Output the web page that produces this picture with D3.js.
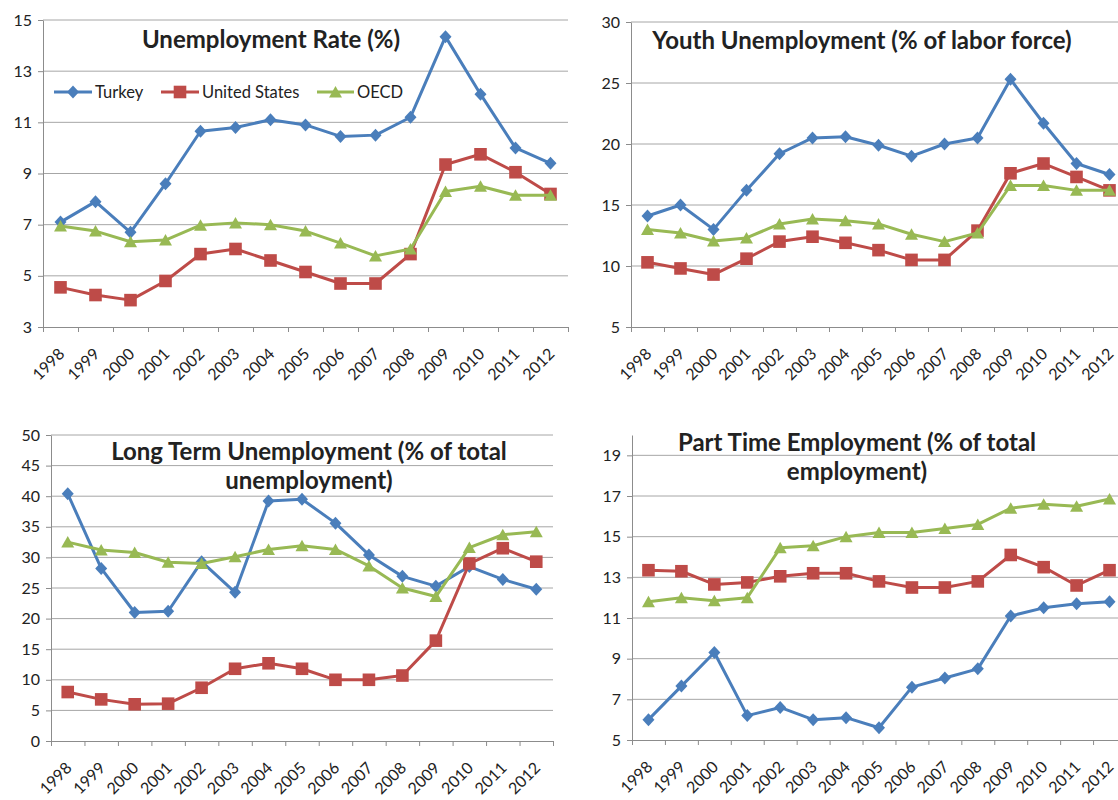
<!DOCTYPE html>
<html>
<head>
<meta charset="utf-8">
<script src="https://cdn.jsdelivr.net/npm/d3@7"></script>
<style>
  html, body { margin: 0; padding: 0; background: #fff; }
  svg { display: block; }
  text { font-family: Lato, "Open Sans", sans-serif; fill: #222; }
</style>
</head>
<body>
<div id="chart"></div>
<script>
// Categories
const years = ["1998", "1999", "2000", "2001", "2002", "2003", "2004", "2005",
  "2006", "2007", "2008", "2009", "2010", "2011", "2012"];

const seriesNames = ["Turkey", "United States", "OECD"];
const colors = ["#4A7EBB", "#BE4B48", "#98B954"];
const markers = ["diamond", "square", "triangle"];

// Unemployment rate (%)
const unempTurkey = [7.1, 7.9, 6.7, 8.6, 10.65, 10.8, 11.1, 10.9, 10.45, 10.5, 11.2, 14.35, 12.1, 10.0, 9.4];
const unempUS = [4.55, 4.25, 4.05, 4.8, 5.85, 6.05, 5.6, 5.15, 4.7, 4.7, 5.85, 9.35, 9.75, 9.05, 8.2];
const unempOECD = [6.95, 6.75, 6.33, 6.4, 6.98, 7.07, 7.0, 6.75, 6.28, 5.78, 6.05, 8.3, 8.5, 8.15, 8.15];
const unempTicks = [3, 5, 7, 9, 11, 13, 15];

// Youth unemployment (% of labor force)
const youthTurkey = [14.1, 15.0, 13.0, 16.2, 19.2, 20.5, 20.6, 19.9, 19.0, 20.0, 20.5, 25.3, 21.7, 18.4, 17.5];
const youthUS = [10.3, 9.8, 9.3, 10.6, 12.0, 12.4, 11.9, 11.3, 10.5, 10.5, 12.9, 17.6, 18.4, 17.3, 16.2];
const youthOECD = [13.0, 12.7, 12.05, 12.3, 13.45, 13.85, 13.7, 13.45, 12.6, 12.0, 12.7, 16.6, 16.6, 16.2, 16.2];
const youthTicks = [5, 10, 15, 20, 25, 30];

// Long term unemployment (% of total unemployment)
const longTurkey = [40.4, 28.2, 21.0, 21.2, 29.3, 24.3, 39.2, 39.5, 35.6, 30.4, 26.9, 25.3, 28.5, 26.4, 24.8];
const longUS = [8.0, 6.8, 6.0, 6.1, 8.7, 11.8, 12.7, 11.8, 10.0, 10.0, 10.7, 16.4, 29.0, 31.5, 29.3];
const longOECD = [32.5, 31.2, 30.8, 29.2, 29.0, 30.1, 31.3, 31.9, 31.3, 28.6, 25.0, 23.6, 31.6, 33.7, 34.2];
const longTicks = [0, 5, 10, 15, 20, 25, 30, 35, 40, 45, 50];

// Part time employment (% of total employment)
const partTurkey = [6.0, 7.65, 9.3, 6.2, 6.6, 6.0, 6.1, 5.6, 7.6, 8.05, 8.5, 11.1, 11.5, 11.7, 11.8];
const partUS = [13.35, 13.3, 12.65, 12.75, 13.05, 13.2, 13.2, 12.8, 12.5, 12.5, 12.8, 14.1, 13.5, 12.6, 13.35];
const partOECD = [11.8, 12.0, 11.85, 12.0, 14.45, 14.55, 15.0, 15.2, 15.2, 15.4, 15.6, 16.4, 16.6, 16.5, 16.85];
const partTicks = [5, 7, 9, 11, 13, 15, 17, 19];

const width = 1118, height = 800;

const svg = d3.select("#chart").append("svg")
  .attr("width", width)
  .attr("height", height);

const panels = [
  { left: 43, right: 568, top: 20, bottom: 327, domain: [3, 15], ticks: unempTicks,
    series: [unempTurkey, unempUS, unempOECD],
    title: ["Unemployment Rate (%)"], titleX: 271, titleY: 48, legend: true },
  { left: 631, right: 1126, top: 22, bottom: 327, domain: [5, 30], ticks: youthTicks,
    series: [youthTurkey, youthUS, youthOECD],
    title: ["Youth Unemployment (% of labor force)"], titleX: 862, titleY: 49 },
  { left: 51, right: 553, top: 435, bottom: 741, domain: [0, 50], ticks: longTicks,
    series: [longTurkey, longUS, longOECD],
    title: ["Long Term Unemployment (% of total", "unemployment)"], titleX: 309, titleY: 460 },
  { left: 632, right: 1126, top: 435, bottom: 740, domain: [5, 20], ticks: partTicks,
    series: [partTurkey, partUS, partOECD],
    title: ["Part Time Employment (% of total", "employment)"], titleX: 857, titleY: 451 }
];

function markerPath(type) {
  if (type === "diamond") return "M0,-6.5L6,0L0,6.5L-6,0Z";
  if (type === "square") return "M-6.3,-6.3H6.3V6.3H-6.3Z";
  return "M0,-6L6.5,5.5L-6.5,5.5Z";
}

panels.forEach(p => {
  const g = svg.append("g");

  const x = d3.scaleBand().domain(years).range([p.left, p.right]);
  const xEdge = d3.scaleLinear().domain([0, years.length]).range([p.left, p.right]);
  const y = d3.scaleLinear().domain(p.domain).range([p.bottom, p.top]);
  const cx = d => x(d) + x.bandwidth() / 2;

  // Gridlines
  g.append("g")
    .selectAll("line")
    .data(p.ticks.filter(t => t !== p.domain[0]))
    .join("line")
    .attr("x1", p.left)
    .attr("x2", p.right)
    .attr("y1", d => y(d))
    .attr("y2", d => y(d))
    .attr("stroke", "#a6a6a6")
    .attr("stroke-width", 1);

  // Y axis
  const yAxis = g.append("g")
    .attr("transform", `translate(${p.left},0)`)
    .call(d3.axisLeft(y).tickValues(p.ticks).tickSizeInner(5).tickSizeOuter(0).tickPadding(6));
  yAxis.select(".domain").attr("stroke", "#8c8c8c");
  yAxis.selectAll(".tick line").attr("stroke", "#8c8c8c");
  yAxis.selectAll("text")
    .attr("font-size", 16)
    .attr("font-family", "Lato, sans-serif")
    .attr("fill", "#333");

  // X axis: boundary ticks
  const xAxis = g.append("g")
    .attr("transform", `translate(0,${p.bottom})`)
    .call(d3.axisBottom(xEdge).tickValues(d3.range(years.length + 1)).tickFormat("").tickSizeInner(5).tickSizeOuter(0));
  xAxis.select(".domain").attr("stroke", "#8c8c8c");
  xAxis.selectAll(".tick line").attr("stroke", "#8c8c8c");

  // X axis labels, rotated
  const xLabels = g.append("g")
    .attr("transform", `translate(0,${p.bottom})`)
    .call(d3.axisBottom(x).tickSize(0));
  xLabels.select(".domain").remove();
  xLabels.selectAll("text")
    .attr("x", 0)
    .attr("y", 0)
    .attr("dy", 0)
    .attr("text-anchor", "end")
    .attr("transform", "translate(5,28) rotate(-45)")
    .attr("font-size", 16)
    .attr("font-family", "Lato, sans-serif")
    .attr("fill", "#333");

  // Series
  const line = d3.line()
    .x((d, i) => cx(years[i]))
    .y(d => y(d));

  p.series.forEach((values, si) => {
    g.append("path")
      .datum(values)
      .attr("fill", "none")
      .attr("stroke", colors[si])
      .attr("stroke-width", 3)
      .attr("stroke-linejoin", "round")
      .attr("d", line);

    g.append("g")
      .selectAll("path")
      .data(values)
      .join("path")
      .attr("transform", (d, i) => `translate(${cx(years[i])},${y(d)})`)
      .attr("d", markerPath(markers[si]))
      .attr("fill", colors[si]);
  });

  // Title
  const title = g.append("text")
    .attr("x", p.titleX)
    .attr("y", p.titleY)
    .attr("text-anchor", "middle")
    .attr("font-size", 24)
    .attr("font-weight", "bold")
    .attr("fill", "#111");
  p.title.forEach((t, i) => {
    title.append("tspan")
      .attr("x", p.titleX)
      .attr("dy", i === 0 ? 0 : 29)
      .text(t);
  });

  // Legend
  if (p.legend) {
    const legendItems = [
      { x: 54, w: 38 },
      { x: 161, w: 38 },
      { x: 317, w: 37 }
    ];
    const lg = g.append("g").attr("transform", "translate(0,92)");
    seriesNames.forEach((name, si) => {
      const it = legendItems[si];
      lg.append("line")
        .attr("x1", it.x).attr("x2", it.x + it.w)
        .attr("y1", 0).attr("y2", 0)
        .attr("stroke", colors[si])
        .attr("stroke-width", 3);
      lg.append("path")
        .attr("transform", `translate(${it.x + it.w / 2},0)`)
        .attr("d", markerPath(markers[si]))
        .attr("fill", colors[si]);
      lg.append("text")
        .attr("x", it.x + it.w + 3)
        .attr("y", 0)
        .attr("dy", "0.35em")
        .attr("font-size", 16.5)
        .attr("fill", "#333")
        .text(name);
    });
  }
});
</script>
</body>
</html>
